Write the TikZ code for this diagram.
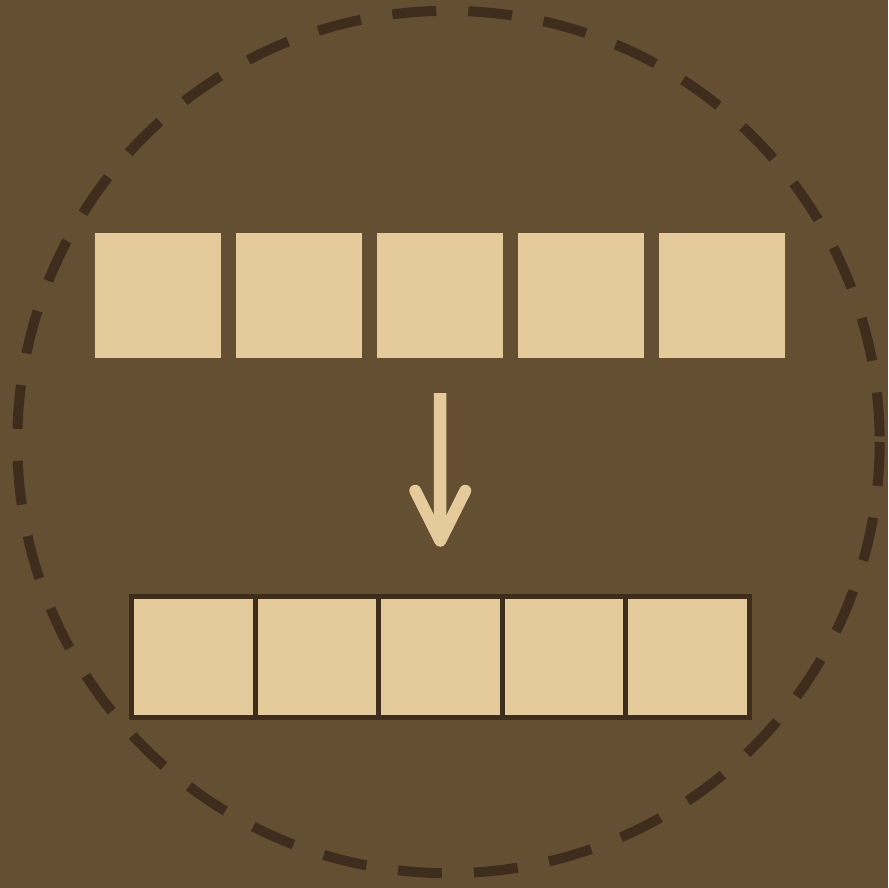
\documentclass[tikz,border=0pt]{standalone}
\usepackage{tikz}
\usetikzlibrary{arrows.meta, positioning, calc}
\definecolor{crateback}{HTML}{654F33}
\definecolor{cellsand}{HTML}{E5CA9C}
\definecolor{rimdark}{HTML}{3E2D1C}

\begin{document}
\begin{tikzpicture}[x=1pt, y=-1pt,
    loosecell/.style={fill=cellsand, minimum width=126pt, minimum height=125pt, inner sep=0pt},
    packedcell/.style={fill=cellsand, draw=rimdark, line width=5pt, minimum width=123.5pt, minimum height=121.5pt, inner sep=0pt}]
    % ── BACKGROUND ────────────────────────────────────────────────────
    \fill[crateback] (0, 0) rectangle (888, 888);
    \useasboundingbox (0, 0) rectangle (888, 888);

    % Dashed rim (starts on the right, runs downwards first)
    \coordinate (rimc) at (448.5, 442);
    \draw[rimdark, line width=10pt, dash pattern=on 44pt off 32pt]
        ($(rimc)+(431.2, 0)$) arc[start angle=0, end angle=-360, radius=431.2pt];

    % ── TOP: LOOSE ROW ────────────────────────────────────────────────
    \node[loosecell] (loose1) at (158, 295.5) {};
    \node[loosecell] (loose2) at (299, 295.5) {};
    \node[loosecell] (loose3) at (440, 295.5) {};
    \node[loosecell] (loose4) at (581, 295.5) {};
    \node[loosecell] (loose5) at (722, 295.5) {};

    % ── BOTTOM: PACKED ROW ────────────────────────────────────────────
    \node[packedcell] (packed1) at (193.25, 657) {};
    \node[packedcell] (packed2) at (316.75, 657) {};
    \node[packedcell] (packed3) at (440.25, 657) {};
    \node[packedcell] (packed4) at (563.75, 657) {};
    \node[packedcell] (packed5) at (687.25, 657) {};

    % Arrow between the rows
    \coordinate (arrtop) at ($(loose3.south)+(0, 35)$);
    \coordinate (arrtip) at ($(packed3.north)+(0, -53)$);
    \draw[cellsand, line width=12.5pt] (arrtop) -- ($(arrtip)+(0, -4)$);
    \draw[cellsand, line width=12pt, line cap=round, line join=round]
        ($(arrtip)+(-25, -50)$) -- (arrtip) -- ($(arrtip)+(25, -50)$);
\end{tikzpicture}
\end{document}
